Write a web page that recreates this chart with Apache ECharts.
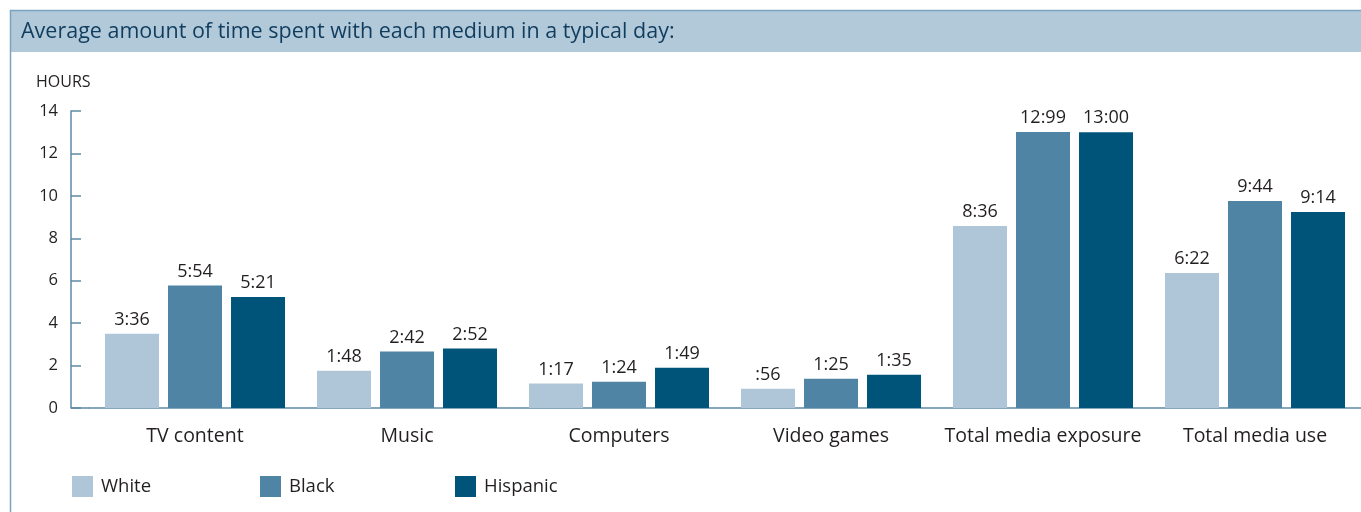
<!DOCTYPE html>
<html>
<head>
<meta charset="utf-8">
<script src="https://cdn.jsdelivr.net/npm/echarts@6/dist/echarts.min.js"></script>
<style>
html,body{margin:0;padding:0;background:#fff;}
#chart{width:1361px;height:512px;}
</style>
</head>
<body>
<div id="chart"></div>
<script>
var categories = ['TV content', 'Music', 'Computers', 'Video games', 'Total media exposure', 'Total media use'];
var seriesNames = ['White', 'Black', 'Hispanic'];
var whiteValues = [3.5, 1.76, 1.15, 0.91, 8.58, 6.36];
var blackValues = [5.77, 2.66, 1.24, 1.38, 13.01, 9.76];
var hispanicValues = [5.23, 2.8, 1.9, 1.57, 13.0, 9.24];
var whiteLabels = ['3:36', '1:48', '1:17', ':56', '8:36', '6:22'];
var blackLabels = ['5:54', '2:42', '1:24', '1:25', '12:99', '9:44'];
var hispanicLabels = ['5:21', '2:52', '1:49', '1:35', '13:00', '9:14'];
var yTicks = [0, 2, 4, 6, 8, 10, 12, 14];

var colors = ['#afc5d8', '#4f84a4', '#00547a'];
var FONT = '"Open Sans", "Noto Sans", sans-serif';
var TEXT = '#231f20';

function mkSeries(name, values, labels, color) {
  return {
    name: name,
    type: 'bar',
    barWidth: 54,
    barGap: '16.7%',
    barCategoryGap: '15%',
    itemStyle: { color: color },
    label: {
      show: true,
      position: 'top',
      distance: 5,
      fontFamily: FONT,
      fontSize: 18,
      color: TEXT,
      formatter: function (p) { return labels[p.dataIndex]; }
    },
    data: values
  };
}

var chart = echarts.init(document.getElementById('chart'), null, { renderer: 'canvas' });
chart.setOption({
  animation: false,
  backgroundColor: '#ffffff',
  color: colors,
  graphic: [
    { type: 'rect', shape: { x: 10, y: 10, width: 1351, height: 42 }, style: { fill: '#b2c9da' }, z: -1 },
    { type: 'line', shape: { x1: 10, y1: 10.5, x2: 1361, y2: 10.5 }, style: { stroke: '#7aa3bf', lineWidth: 1.5 }, z: 0 },
    { type: 'line', shape: { x1: 10.5, y1: 10, x2: 10.5, y2: 512 }, style: { stroke: '#7aa3bf', lineWidth: 1.5 }, z: 0 },
    { type: 'line', shape: { x1: 71, y1: 408, x2: 89, y2: 408 }, style: { stroke: '#5f89a6', lineWidth: 1.5 }, z: 5 }
  ],
  title: [
    {
      text: 'Average amount of time spent with each medium in a typical day:',
      left: 21, top: 21, padding: 0,
      textStyle: { fontFamily: FONT, fontSize: 21.5, fontWeight: 'normal', color: '#103d5e' }
    },
    {
      text: 'HOURS',
      left: 36, top: 74, padding: 0,
      textStyle: { fontFamily: FONT, fontSize: 16, fontWeight: 'normal', color: TEXT }
    }
  ],
  legend: seriesNames.map(function (n, i) {
    return {
      data: [n],
      left: [72, 260, 455][i],
      top: 476,
      padding: 0,
      itemWidth: 21,
      itemHeight: 21,
      icon: 'rect',
      selectedMode: false,
      textStyle: { fontFamily: FONT, fontSize: 18.5, color: TEXT, padding: [3, 0, 0, 3] }
    };
  }),
  grid: { left: 89, right: 0, top: 111, bottom: 104, containLabel: false },
  xAxis: {
    type: 'category',
    data: categories,
    axisLine: { show: true, lineStyle: { color: '#5f89a6', width: 1.5 } },
    axisTick: { show: false },
    axisLabel: { fontFamily: FONT, fontSize: 19.5, color: TEXT, margin: 18, interval: 0 }
  },
  yAxis: {
    type: 'value',
    min: 0, max: 14, interval: 2,
    offset: 18,
    splitLine: { show: false },
    axisLine: { show: true, lineStyle: { color: '#5f89a6', width: 1.5 } },
    axisTick: { show: true, inside: true, length: 10, lineStyle: { color: '#5f89a6', width: 1.5 } },
    axisLabel: {
      fontFamily: FONT, fontSize: 16.5, color: TEXT, margin: 13,
      formatter: function (v) { return yTicks.indexOf(v) >= 0 ? String(v) : ''; }
    }
  },
  series: [
    mkSeries(seriesNames[0], whiteValues, whiteLabels, colors[0]),
    mkSeries(seriesNames[1], blackValues, blackLabels, colors[1]),
    mkSeries(seriesNames[2], hispanicValues, hispanicLabels, colors[2])
  ]
});
</script>
</body>
</html>
